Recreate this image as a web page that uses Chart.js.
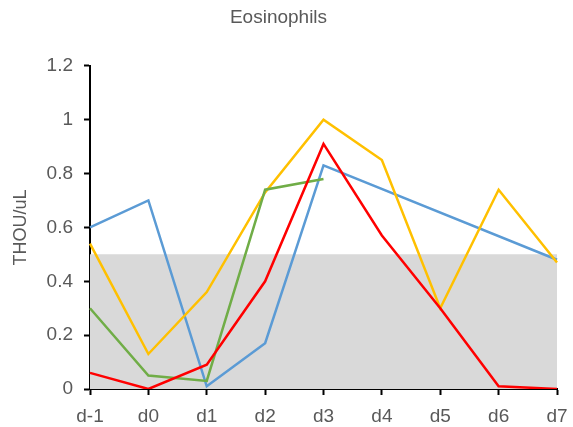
<!DOCTYPE html>
<html>
<head>
<meta charset="utf-8">
<script src="https://cdn.jsdelivr.net/npm/chart.js@4/dist/chart.umd.min.js"></script>
<style>
  html, body { margin: 0; padding: 0; background: #fff; }
  #wrap { width: 573px; height: 427px; }
</style>
</head>
<body>
<div id="wrap"><canvas id="eosChart"></canvas></div>
<script>
const days = ['d-1', 'd0', 'd1', 'd2', 'd3', 'd4', 'd5', 'd6', 'd7'];
const blueVals = [0.60, 0.70, 0.01, 0.17, 0.83, null, null, null, 0.48];
const yellowVals = [0.54, 0.13, 0.36, 0.73, 1.00, 0.85, 0.30, 0.74, 0.47];
const greenVals = [0.30, 0.05, 0.03, 0.74, 0.78, null, null, null, null];
const redVals = [0.06, 0.00, 0.09, 0.40, 0.91, 0.57, 0.30, 0.01, 0.00];
const normalRange = [0.5, 0.5, 0.5, 0.5, 0.5, 0.5, 0.5, 0.5, 0.5];

const grayText = '#595959';
const font = 'Liberation Sans, Arial, sans-serif';

function lineSet(label, data, color) {
  return {
    label: label,
    data: data,
    borderColor: color,
    backgroundColor: color,
    borderWidth: 2.5,
    pointRadius: 0,
    tension: 0,
    spanGaps: true,
    fill: false
  };
}

const config = {
  type: 'line',
  data: {
    labels: days,
    datasets: [
      lineSet('red', redVals, '#FF0000'),
      lineSet('green', greenVals, '#70AD47'),
      lineSet('yellow', yellowVals, '#FFC000'),
      lineSet('blue', blueVals, '#5B9BD5'),
      {
        label: 'normal',
        data: normalRange,
        borderWidth: 0,
        borderColor: 'rgba(0,0,0,0)',
        backgroundColor: '#D9D9D9',
        pointRadius: 0,
        fill: 'origin'
      }
    ]
  },
  options: {
    responsive: true,
    maintainAspectRatio: false,
    animation: false,
    layout: { padding: { left: 0, right: 16, top: 0, bottom: 0 } },
    plugins: {
      legend: { display: false },
      tooltip: { enabled: false },
      title: {
        display: true,
        text: 'Eosinophils',
        color: grayText,
        font: { family: font, size: 19, weight: 'normal' },
        padding: { top: 6, bottom: 37 }
      }
    },
    scales: {
      x: {
        offset: false,
        grid: { drawOnChartArea: false, color: '#000', tickLength: 6, tickWidth: 2 },
        border: { display: true, color: '#000', width: 2 },
        ticks: { color: grayText, font: { family: font, size: 19 }, padding: 10, maxRotation: 0 },
        afterFit: function(scale) {
          scale.height = 38;
          scale.paddingRight = 0;
          scale.paddingLeft = 0;
        }
      },
      y: {
        min: 0,
        max: 1.2,
        grid: { drawOnChartArea: false, color: '#000', tickLength: 6, tickWidth: 2 },
        border: { display: true, color: '#000', width: 2 },
        ticks: {
          stepSize: 0.2,
          color: grayText,
          font: { family: font, size: 19 },
          padding: 11,
          callback: function(v) { return Math.round(v * 10) / 10; }
        },
        title: {
          display: true,
          text: 'THOU/uL',
          color: grayText,
          font: { family: font, size: 18, weight: 'normal' },
          padding: { top: 10, bottom: 4 }
        },
        afterFit: function(scale) { scale.width = 90; }
      }
    }
  }
};

window.onload = function() {
  const ctx = document.getElementById('eosChart').getContext('2d');
  new Chart(ctx, config);
};
</script>
</body>
</html>
